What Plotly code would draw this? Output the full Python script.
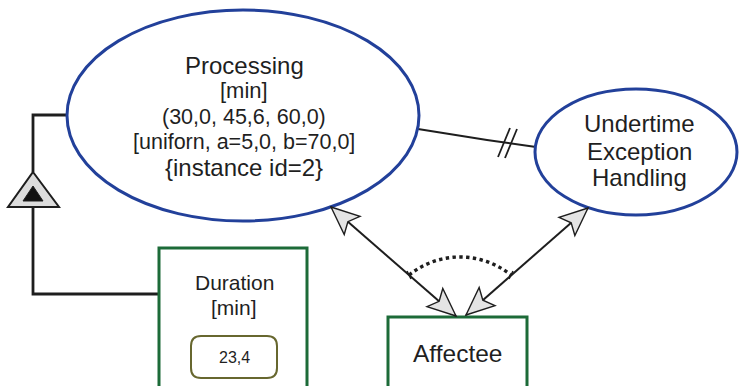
import numpy as np
import plotly.graph_objects as go

# diagram texts
PROCESSING_LINES = ["Processing", "[min]", "(30,0, 45,6, 60,0)",
                    "[uniforn, a=5,0, b=70,0]", "{instance id=2}"]
EXCEPTION_LINES = ["Undertime", "Exception", "Handling"]
DURATION_LINES = ["Duration", "[min]"]
DURATION_VALUE = "23,4"
AFFECTEE_LABEL = "Affectee"

W, H = 739, 386
BLUE = "#22409a"
GREEN = "#1c6b38"
OLIVE = "#67672f"
INK = "#1e1e1e"
GREY = "#e4e4e4"
FONT = "Arial, Liberation Sans, sans-serif"

shapes = []
annotations = []


def line(pts, width=2.2, color=INK, dash=None):
    path = "M " + " L ".join(f"{x},{y}" for x, y in pts)
    shapes.append(dict(type="path", path=path, xref="x", yref="y",
                       line=dict(color=color, width=width, dash=dash)))


def poly(pts, fill, color=INK, width=1.4):
    path = "M " + " L ".join(f"{x},{y}" for x, y in pts) + " Z"
    shapes.append(dict(type="path", path=path, xref="x", yref="y",
                       fillcolor=fill, line=dict(color=color, width=width)))


def arrowhead(tip, tail, length=28, half=12):
    t = np.array(tip, float)
    d = t - np.array(tail, float)
    d /= np.linalg.norm(d)
    n = np.array([-d[1], d[0]])
    p1 = t - length * d + half * n
    p2 = t - 0.8 * length * d
    p3 = t - length * d - half * n
    poly([tuple(t), tuple(p1), tuple(p2), tuple(p3)], GREY, width=1.4)


def text(x, y, s, size, color="#1f1f1f"):
    annotations.append(dict(x=x, y=y, xref="x", yref="y", text=s,
                            showarrow=False,
                            font=dict(family=FONT, size=size, color=color)))


# left generalisation connector
line([(67, 115), (33, 115), (33, 172)], width=2.8)
line([(33, 207), (33, 294), (159, 294)], width=2.8)
poly([(33, 172), (59, 207), (8, 207)], "#dcdcdc", width=2)
poly([(33, 186), (43, 201), (23, 201)], "#111111", width=1)

# association line with double hash
line([(418, 129), (487, 140), (536, 147)], width=2)
line([(498, 157), (510, 128)], width=1.8)
line([(505, 158), (517, 129)], width=1.8)

# ellipses
shapes.append(dict(type="circle", xref="x", yref="y", x0=67, x1=419,
                   y0=10, y1=221, fillcolor="white",
                   line=dict(color=BLUE, width=3)))
shapes.append(dict(type="circle", xref="x", yref="y", x0=535, x1=737,
                   y0=89, y1=215, fillcolor="white",
                   line=dict(color=BLUE, width=3)))

# boxes
shapes.append(dict(type="rect", xref="x", yref="y", x0=159, x1=307,
                   y0=248, y1=400, fillcolor="white",
                   line=dict(color=GREEN, width=3)))
shapes.append(dict(type="rect", xref="x", yref="y", x0=388, x1=527,
                   y0=317, y1=400, fillcolor="white",
                   line=dict(color=GREEN, width=3)))
r = 10
x0, x1, y0, y1 = 191, 277, 336, 378
shapes.append(dict(type="path", xref="x", yref="y",
                   path=(f"M {x0+r},{y0} L {x1-r},{y0} Q {x1},{y0} {x1},{y0+r} "
                         f"L {x1},{y1-r} Q {x1},{y1} {x1-r},{y1} L {x0+r},{y1} "
                         f"Q {x0},{y1} {x0},{y1-r} L {x0},{y0+r} Q {x0},{y0} {x0+r},{y0} Z"),
                   fillcolor="white", line=dict(color=OLIVE, width=2)))

# double-headed arrows to Affectee
left_a, left_b = (331, 207), (456, 316)
right_a, right_b = (588, 208), (466, 315)
line([left_a, left_b], width=2)
line([right_a, right_b], width=2)
arrowhead(left_a, left_b)
arrowhead(left_b, left_a)
arrowhead(right_a, right_b)
arrowhead(right_b, right_a)

# dotted arc between the arrows
cx, cy, rad = 460, 338, 81
ang = np.linspace(np.arctan2(275 - cy, 409 - cx), np.arctan2(275 - cy, 511 - cx), 40)
line(list(zip(cx + rad * np.cos(ang), cy + rad * np.sin(ang))), width=3.4, dash="dot")
line([(407, 271), (411, 279)], width=1.5)
line([(509, 279), (513, 271)], width=1.5)

# labels
sizes = [24, 22, 21.5, 21.5, 24]
ys = [65, 90, 117, 142, 167]
for s, sz, y in zip(PROCESSING_LINES, sizes, ys):
    text(244, y, s, sz)
for s, y in zip(EXCEPTION_LINES, [123, 151, 177]):
    text(639, y, s, 24)
for s, y in zip(DURATION_LINES, [282, 307]):
    text(234, y, s, 21)
text(234, 357, DURATION_VALUE, 16)
text(457, 353, AFFECTEE_LABEL, 24.5)

fig = go.Figure(go.Scatter(x=[0], y=[0], mode="markers",
                           marker=dict(opacity=0), hoverinfo="skip"))
fig.update_layout(width=W, height=H, margin=dict(l=0, r=0, t=0, b=0),
                  plot_bgcolor="white", paper_bgcolor="white",
                  showlegend=False, shapes=shapes, annotations=annotations)
fig.update_xaxes(range=[0, W], visible=False, fixedrange=True)
fig.update_yaxes(range=[H, 0], visible=False, fixedrange=True)
fig.write_html("out.html", config={"displayModeBar": False},
               post_script="document.body.style.margin='0';"
                           "document.body.style.overflow='hidden';")
